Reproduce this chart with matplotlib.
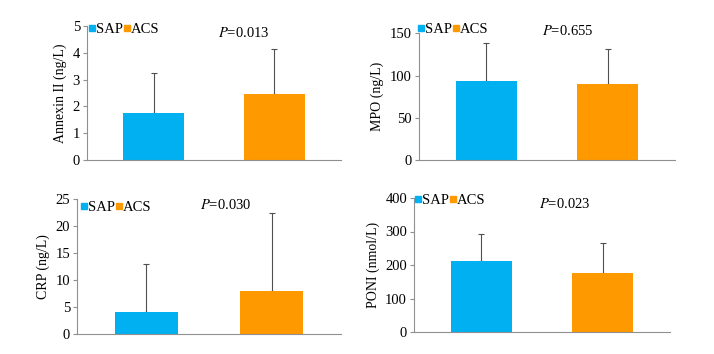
import matplotlib
matplotlib.use('Agg')
import matplotlib.pyplot as plt
from matplotlib.lines import Line2D

plt.rcParams['font.family'] = ['Liberation Serif', 'DejaVu Serif']
plt.rcParams['mathtext.fontset'] = 'stix'

groups = ['SAP', 'ACS']
colors = ['#00B0F0', '#FF9900']

ylabels = ['Annexin II (ng/L)', 'MPO (ng/L)', 'CRP (ng/L)', 'PONI (nmol/L)']
pvals = ['0.013', '0.655', '0.030', '0.023']
ymax = [5, 150, 25, 400]
ystep = [1, 50, 5, 100]

annexin_mean = [1.74, 2.45]
annexin_sd = [1.50, 1.68]
mpo_mean = [93.5, 89.6]
mpo_sd = [44.5, 42.4]
crp_mean = [4.07, 7.96]
crp_sd = [8.83, 14.44]
poni_mean = [212, 176]
poni_sd = [80.5, 89.7]

means = [annexin_mean, mpo_mean, crp_mean, poni_mean]
sds = [annexin_sd, mpo_sd, crp_sd, poni_sd]

W, H = 714, 354
fig = plt.figure(figsize=(W / 100, H / 100), dpi=100)

# pixel boxes (left, right, top, bottom) of each panel
boxes = [(87, 341, 26, 160), (419, 675, 33.3, 160),
         (77, 341, 199, 334), (414, 670, 198, 332)]
# P text and legend positions in pixels
ptext = [(218, 33), (542, 31), (200, 205), (539, 204)]
legpos = [(89, 29), (418, 29), (81, 207), (415, 200)]

for i in range(4):
    l, r, t, b = boxes[i]
    ax = fig.add_axes([l / W, 1 - b / H, (r - l) / W, (b - t) / H])
    x = [0, 1]
    ax.bar(x, means[i], width=0.5, color=colors, zorder=2)
    ax.errorbar(x, means[i], yerr=[[0, 0], sds[i]], fmt='none',
                ecolor='#505050', elinewidth=0.8, capsize=2.5,
                capthick=0.8, zorder=1)
    ax.set_xlim(-0.55, 1.55)
    ax.set_ylim(0, ymax[i])
    ax.set_yticks(range(0, ymax[i] + 1, ystep[i]))
    ax.set_xticks([])
    for s in ['top', 'right']:
        ax.spines[s].set_visible(False)
    for s in ['left', 'bottom']:
        ax.spines[s].set_color('#909090')
        ax.spines[s].set_linewidth(0.8)
    ax.tick_params(axis='y', direction='out', length=3, width=0.8,
                   color='#909090', labelsize=10.5, pad=2)
    ax.set_ylabel(ylabels[i], fontsize=10, labelpad=4)

    handles = [Line2D([], [], marker='s', linestyle='none', color=c,
                      markersize=4.5) for c in colors]
    lx, ly = legpos[i]
    ax.legend(handles, groups, loc='center left',
              bbox_to_anchor=(lx / W, 1 - ly / H),
              bbox_transform=fig.transFigure,
              frameon=False, ncol=2, handlelength=0.4, handletextpad=0.1,
              columnspacing=0.05, borderaxespad=0, borderpad=0,
              fontsize=10.5)

    px, py = ptext[i]
    fig.text(px / W, 1 - py / H, r'$\mathit{P}$=' + pvals[i],
             fontsize=10.5, va='center', ha='left')

fig.savefig('out.png', dpi=100)
